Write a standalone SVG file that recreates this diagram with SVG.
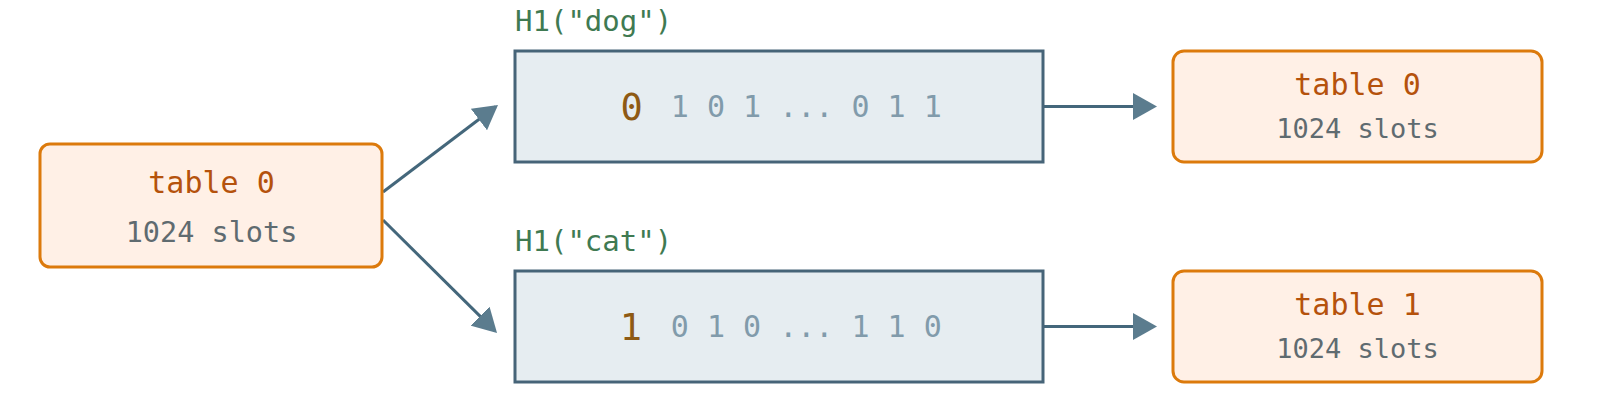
<svg xmlns="http://www.w3.org/2000/svg" width="1600" height="418" viewBox="0 0 1600 418">
<defs>
<style>
text{font-family:"DejaVu Sans Mono","Liberation Mono",monospace;}
.tbl{fill:#fff0e6;stroke:#dc7a0c;stroke-width:3;}
.hash{fill:#e6edf1;stroke:#466478;stroke-width:3;}
.ttl{fill:#b5520c;font-size:30px;text-anchor:middle;}
.sub{fill:#5f6b70;text-anchor:middle;}
.lbl{fill:#3f7a52;font-size:29px;}
.big{fill:#8e5a14;font-size:37px;text-anchor:middle;}
.bits{fill:#819bab;font-size:30px;text-anchor:middle;}
.edge{stroke:#44677b;stroke-width:3;fill:none;marker-end:url(#ah);}
</style>
<marker id="ah" viewBox="0 0 24 27" refX="21" refY="13.5" markerWidth="24" markerHeight="27" markerUnits="userSpaceOnUse" orient="auto">
<path d="M0,0 L24,13.5 L0,27 Z" fill="#5b7c8e"/>
</marker>
</defs>
<g id="connectors">
<line class="edge" x1="383" y1="192" x2="495.6" y2="106.8"/>
<line class="edge" x1="383" y1="220" x2="494.9" y2="330.9"/>
<line class="edge" x1="1043" y1="106.5" x2="1154" y2="106.5"/>
<line class="edge" x1="1043" y1="326.5" x2="1154" y2="326.5"/>
</g>
<g id="src-table">
<rect class="tbl" x="40" y="144" width="342" height="123" rx="10"/>
<text class="ttl" x="211.5" y="193">table 0</text>
<text class="sub" x="211.5" y="242" font-size="28.5">1024 slots</text>
</g>
<g id="hash-dog">
<text class="lbl" x="515" y="31">H1("dog")</text>
<rect class="hash" x="515" y="51" width="528" height="111"/>
<text class="big" x="631.7" y="119.5">0</text>
<text class="bits" x="806.3" y="117.3">1 0 1 ... 0 1 1</text>
</g>
<g id="hash-cat">
<text class="lbl" x="515" y="251">H1("cat")</text>
<rect class="hash" x="515" y="271" width="528" height="111"/>
<text class="big" x="631" y="339.5">1</text>
<text class="bits" x="806.3" y="337.3">0 1 0 ... 1 1 0</text>
</g>
<g id="table0">
<rect class="tbl" x="1173" y="51" width="369" height="111" rx="11"/>
<text class="ttl" x="1357.5" y="95">table 0</text>
<text class="sub" x="1357.5" y="138" font-size="27">1024 slots</text>
</g>
<g id="table1">
<rect class="tbl" x="1173" y="271" width="369" height="111" rx="11"/>
<text class="ttl" x="1357.5" y="315">table 1</text>
<text class="sub" x="1357.5" y="358" font-size="27">1024 slots</text>
</g>
</svg>
